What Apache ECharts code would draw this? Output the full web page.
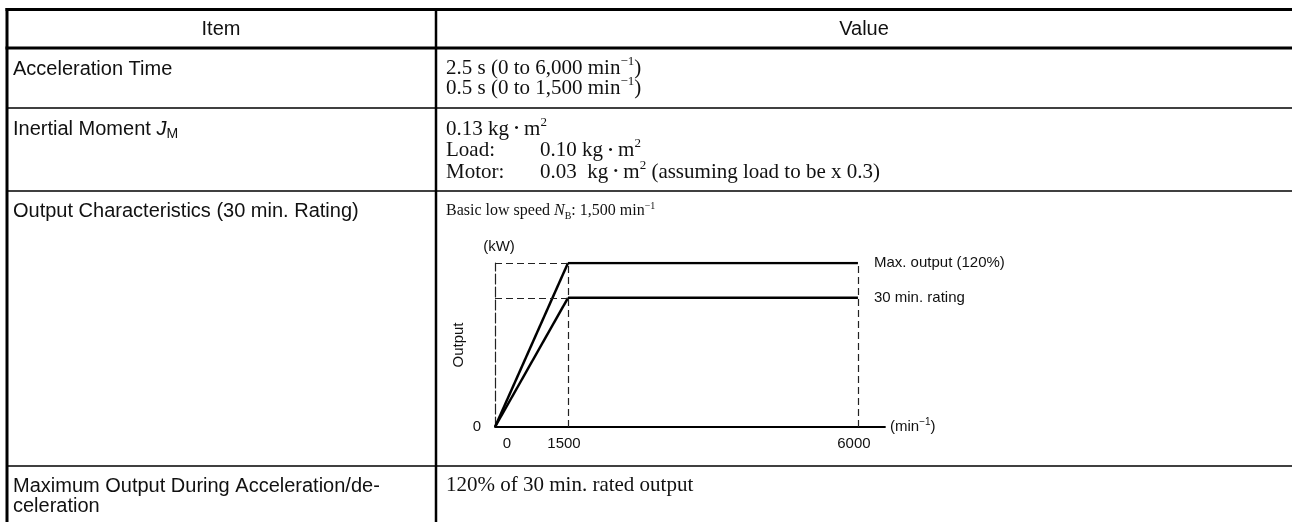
<!DOCTYPE html>
<html><head><meta charset="utf-8">
<script src="https://cdn.jsdelivr.net/npm/echarts@6/dist/echarts.min.js"></script>
<style>html,body{margin:0;padding:0;background:#fff}#c{width:1292px;height:522px}</style>
</head><body><div id="c"></div>
<script>
// ---- table content ----
const tableHeaders = ['Item', 'Value'];
const itemLabels = [
  ['Acceleration Time'],
  ['Inertial Moment {it|J}{sub|M}'],
  ['Output Characteristics (30 min. Rating)'],
  ['Maximum Output During Acceleration/de-', 'celeration']
];
const accelTimeLines = ['2.5 s (0 to 6,000 min{sup|−1})', '0.5 s (0 to 1,500 min{sup|−1})'];
const inertiaKeys = ['', 'Load:', 'Motor:'];
const inertiaValues = ['0.13 kg {dot|•} m{sup|2}', '0.10 kg {dot|•} m{sup|2}', '0.03  kg {dot|•} m{sup|2} (assuming load to be x 0.3)'];
const baseSpeedNote = 'Basic low speed {it|N}{sub|B}: 1,500 min{sup|−1}';
const maxOutputNote = '120% of 30 min. rated output';

// ---- chart data (schematic) ----
const speedTicks = [0, 1500, 6000];
const speedTickLabels = ['0', '1500', '6000'];
const maxOutputLevel = [0, 127, 127];
const ratedOutputLevel = [0, 100, 100];
const seriesNames = ['Max. output (120%)', '30 min. rating'];
const outputAxisName = 'Output';
const outputUnit = '(kW)';
const speedUnit = '(min{sup|−1})';
const outputZeroLabel = '0';

const SANS = '"Liberation Sans", Arial, Helvetica, sans-serif';
const SERIF = '"Liberation Serif", "Times New Roman", serif';
const INK = '#111';

function richSerif(size) {
  const s = Math.round(size * 0.62);
  return {
    sup: {fontSize: s, fontFamily: SERIF, fill: INK, verticalAlign: 'top', lineHeight: s},
    sub: {fontSize: s, fontFamily: SERIF, fill: INK, verticalAlign: 'bottom', lineHeight: s},
    it: {fontSize: size, fontFamily: SERIF, fontStyle: 'italic', fill: INK},
    dot: {fontSize: Math.round(size * 0.6), fontFamily: SERIF, fill: INK, verticalAlign: 'middle'}
  };
}
function richSans(size) {
  const s = Math.round(size * 0.7);
  return {
    sub: {fontSize: s, fontFamily: SANS, fill: INK, verticalAlign: 'bottom', lineHeight: s},
    it: {fontSize: size, fontFamily: SANS, fontStyle: 'italic', fill: INK}
  };
}
function txt(x, y, text, family, size, align) {
  return {
    type: 'text', silent: true, z: 10,
    style: {
      x: x, y: y, text: text, fontFamily: family, fontSize: size, fill: INK,
      align: align || 'left', verticalAlign: 'middle', lineHeight: Math.round(size * 1.25),
      rich: family === SERIF ? richSerif(size) : richSans(size)
    }
  };
}
function ln(x1, y1, x2, y2, w) {
  return {type: 'line', silent: true, z: 5, shape: {x1, y1, x2, y2}, style: {stroke: '#000', lineWidth: w}};
}

const graphics = [];
// table rules
graphics.push(ln(5.5, 9.5, 1292, 9.5, 3));
graphics.push(ln(5.5, 48, 1292, 48, 3));
graphics.push(ln(7, 108, 1292, 108, 1.5));
graphics.push(ln(7, 191, 1292, 191, 1.5));
graphics.push(ln(7, 466, 1292, 466, 1.5));
graphics.push(ln(7, 8, 7, 522, 3));
graphics.push(ln(436, 8, 436, 522, 2.5));

// headers
graphics.push(txt(221, 29, tableHeaders[0], SANS, 20, 'center'));
graphics.push(txt(864, 29, tableHeaders[1], SANS, 20, 'center'));

// item column
const itemY = [[69], [129], [211], [486, 506]];
itemLabels.forEach((lines, r) => lines.forEach((t, k) => graphics.push(txt(13, itemY[r][k], t, SANS, 20))));

// value column
accelTimeLines.forEach((t, k) => graphics.push(txt(446, 68 + k * 20, t, SERIF, 21)));
inertiaValues.forEach((t, k) => {
  if (inertiaKeys[k]) graphics.push(txt(446, 129 + k * 21.5, inertiaKeys[k], SERIF, 21));
  graphics.push(txt(k === 0 ? 446 : 540, 129 + k * 21.5, t, SERIF, 21));
});
graphics.push(txt(446, 211, baseSpeedNote, SERIF, 16));
graphics.push(txt(446, 485, maxOutputNote, SERIF, 21));

const rampMax = speedTicks.slice(0, 2).map((x, i) => [x, maxOutputLevel[i]]);
const rampRated = speedTicks.slice(0, 2).map((x, i) => [x, ratedOutputLevel[i]]);
const flatMax = speedTicks.slice(1).map((x, i) => [x, maxOutputLevel[i + 1]]);
const flatRated = speedTicks.slice(1).map((x, i) => [x, ratedOutputLevel[i + 1]]);

const dashStyle = {type: [7, 4], color: '#222', width: 1.2};
const labelStyle = {fontSize: 15, color: INK, fontFamily: SANS};
const yMax = maxOutputLevel[1];

const option = {
  animation: false,
  textStyle: {fontFamily: SANS},
  graphic: graphics,
  grid: [
    {left: 495, top: 263, width: 73, height: 164},
    {left: 568, top: 263, width: 317, height: 164}
  ],
  xAxis: [
    {type: 'value', gridIndex: 0, min: speedTicks[0], max: speedTicks[1],
     axisLine: {show: true, lineStyle: {color: '#000', width: 1.8}}, axisTick: {show: false}, splitLine: {show: false},
     axisLabel: Object.assign({customValues: [speedTicks[0]], margin: 9, padding: [0, 0, 0, 24],
       formatter: v => speedTickLabels[speedTicks.indexOf(v)]}, labelStyle)},
    {type: 'value', gridIndex: 1, min: speedTicks[1], max: 6420,
     axisLine: {show: true, lineStyle: {color: '#000', width: 1.8}}, axisTick: {show: false}, splitLine: {show: false},
     axisLabel: Object.assign({customValues: speedTicks.slice(1), margin: 9, padding: [0, 8, 0, 0],
       formatter: v => speedTickLabels[speedTicks.indexOf(v)]}, labelStyle),
     name: speedUnit, nameLocation: 'end', nameGap: 5,
     nameTextStyle: Object.assign({verticalAlign: 'middle', lineHeight: 20,
       rich: {sup: {fontSize: 10, verticalAlign: 'top', lineHeight: 10, color: INK}}}, labelStyle)}
  ],
  yAxis: [
    {type: 'value', gridIndex: 0, min: 0, max: yMax, position: 'left',
     axisLine: {show: true, lineStyle: {type: [10, 3], color: '#222', width: 1.2}}, axisTick: {show: false}, splitLine: {show: false},
     axisLabel: Object.assign({customValues: [0], margin: 14, formatter: () => outputZeroLabel}, labelStyle),
     name: outputAxisName, nameLocation: 'middle', nameGap: 29, nameRotate: 90, nameTextStyle: labelStyle},
    {type: 'value', gridIndex: 0, min: 0, max: yMax, position: 'left', offset: 0,
     axisLine: {show: false}, axisTick: {show: false}, splitLine: {show: false}, axisLabel: {show: false},
     name: outputUnit, nameLocation: 'end', nameGap: 9, nameTextStyle: Object.assign({align: 'center', padding: [0, 0, 0, 8]}, labelStyle)},
    {type: 'value', gridIndex: 1, min: 0, max: yMax, show: false}
  ],
  series: [
    {name: seriesNames[0] + ' ramp', type: 'line', xAxisIndex: 0, yAxisIndex: 0, data: rampMax, symbol: 'none',
     lineStyle: {color: '#000', width: 2.5}, z: 4,
     markLine: {silent: true, symbol: 'none', label: {show: false}, lineStyle: dashStyle,
       data: [{yAxis: maxOutputLevel[1]}, {yAxis: ratedOutputLevel[1]}]}},
    {name: seriesNames[1] + ' ramp', type: 'line', xAxisIndex: 0, yAxisIndex: 0, data: rampRated, symbol: 'none',
     lineStyle: {color: '#000', width: 2.5}, z: 4},
    {name: seriesNames[0], type: 'line', xAxisIndex: 1, yAxisIndex: 2, data: flatMax, symbol: 'none',
     lineStyle: {color: '#000', width: 2.5}, z: 4,
     endLabel: Object.assign({show: true, formatter: '{a}', distance: 16}, labelStyle),
     markLine: {silent: true, symbol: 'none', label: {show: false}, lineStyle: dashStyle,
       data: [{xAxis: speedTicks[1]}, {xAxis: speedTicks[2]}]}},
    {name: seriesNames[1], type: 'line', xAxisIndex: 1, yAxisIndex: 2, data: flatRated, symbol: 'none',
     lineStyle: {color: '#000', width: 2.5}, z: 4,
     endLabel: Object.assign({show: true, formatter: '{a}', distance: 16}, labelStyle)}
  ]
};
const chart = echarts.init(document.getElementById('c'), null, {renderer: 'canvas'});
chart.setOption(option);
</script></body></html>
